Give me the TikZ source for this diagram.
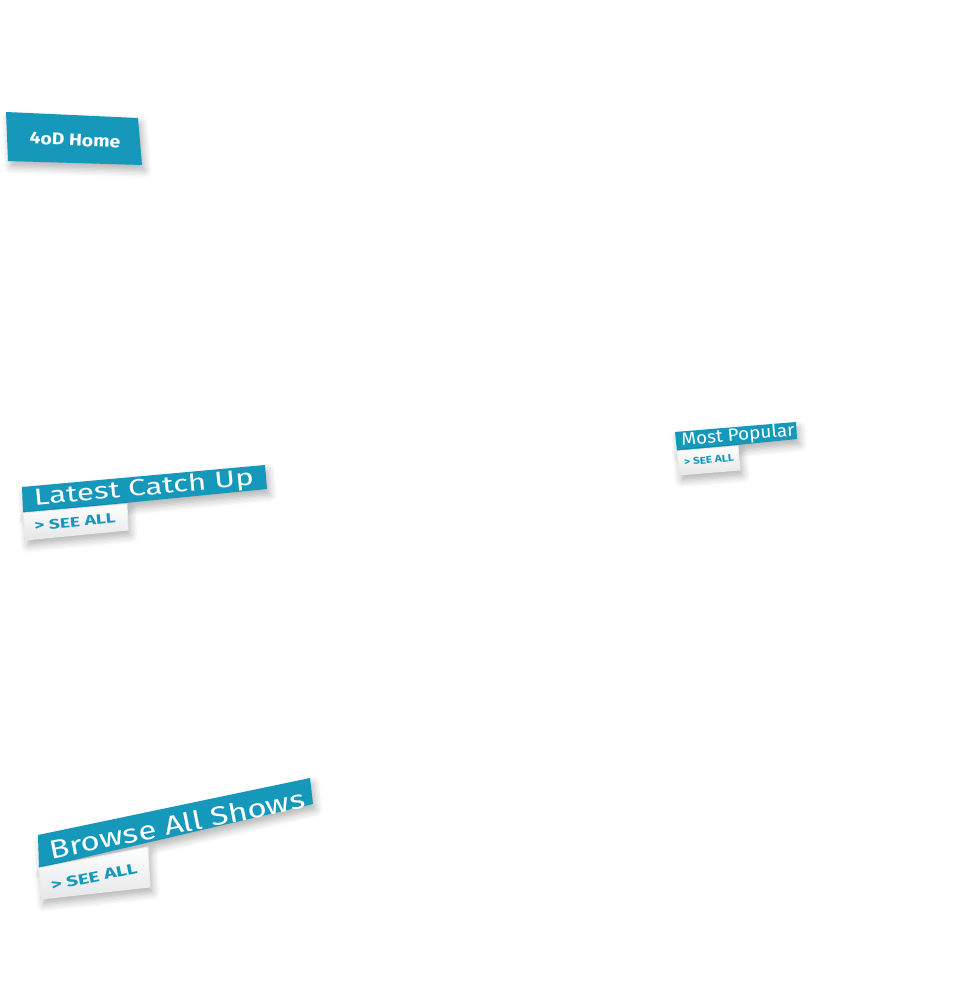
\documentclass[tikz,border=0pt]{standalone}
\usepackage{fontspec}
\setmainfont{Fira Sans}
\usetikzlibrary{shadows,shadows.blur}
\definecolor{fourTeal}{RGB}{22,152,187}
\definecolor{cardGray}{RGB}{228,230,232}
\newcommand{\wide}[2]{\scalebox{#1}[1]{#2}}
\begin{document}
\begin{tikzpicture}[x=0.01cm,y=-0.01cm,
  tab/.style={fill=fourTeal,blur shadow={shadow blur steps=6,shadow xshift=0.8pt,shadow yshift=-1.6pt,shadow opacity=30}},
  card/.style={top color=white,bottom color=cardGray,draw=black!8,line width=0.3pt,
    blur shadow={shadow blur steps=6,shadow xshift=0.8pt,shadow yshift=-1.6pt,shadow opacity=30}},
  tabText/.style={white,inner sep=0pt},
  seeText/.style={fourTeal,inner sep=0pt,font=\bfseries\fontsize{3.9}{4}\selectfont}]
\useasboundingbox (0,0) rectangle (963,1000);
%home
\fill[tab](6,112)--(138,118)--(142,165)--(8,161)--cycle;
\node[tabText,rotate=-2.6,font=\bfseries\fontsize{4.8}{5}\selectfont](homeText) at (75,140){\wide{1.15}{4oD Home}};
%latest catch up
\fill[tab](22,487)--(265,465)--(267,489)--(23,513)--cycle;
\fill[card](23,513)--(127,504)--(128,530)--(25,540)--cycle;
\node[tabText,rotate=5.2,font=\fontsize{6.6}{7}\selectfont](latestText) at (144,489){\wide{1.35}{Latest Catch Up}};
\node[seeText,rotate=5.2](latestSee) at (75,522){\wide{1.4}{> SEE ALL}};
%most popular
\fill[tab](675,432)--(796,422)--(797,439)--(677,451)--cycle;
\fill[card](677,451)--(738,446)--(740,470)--(679,475)--cycle;
\node[tabText,rotate=4.8,font=\fontsize{5}{5}\selectfont](popularText) at (738,436){\wide{1.08}{Most Popular}};
\node[seeText,rotate=4.8,font=\bfseries\fontsize{2.8}{3}\selectfont](popularSee) at (709,460){\wide{1.2}{> SEE ALL}};
%browse all shows
\fill[tab](38,835)--(310,778)--(313,804)--(39,868)--cycle;
\fill[card](39,868)--(148,847)--(150,887)--(41,899)--cycle;
\node[tabText,rotate=11.4,font=\fontsize{7.4}{8}\selectfont](browseText) at (177,824){\wide{1.27}{Browse All Shows}};
\node[seeText,rotate=11.4,font=\bfseries\fontsize{4.2}{5}\selectfont](browseSee) at (94,877){\wide{1.4}{> SEE ALL}};
\end{tikzpicture}
\end{document}
